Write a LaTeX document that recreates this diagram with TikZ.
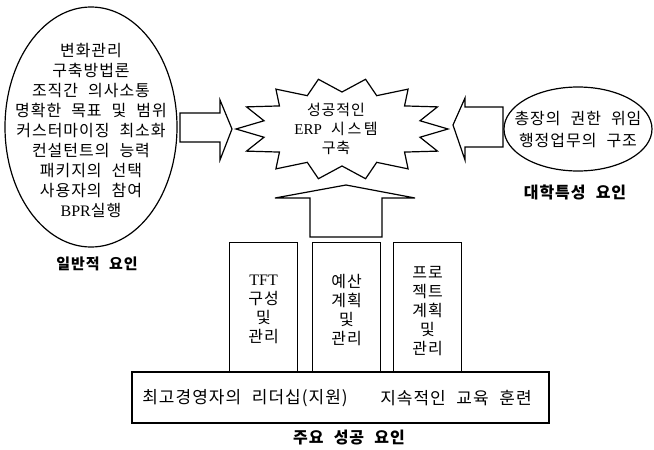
\documentclass[tikz,border=0pt]{standalone}
\usepackage{fontspec}
\setmainfont{Noto Sans CJK KR}
\newfontfamily\kr[WordSpace=2.2,LetterSpace=6]{Noto Sans CJK KR}
\newfontfamily\latf{Liberation Serif}
\newcommand\lt[1]{{\latf #1}}
\tikzset{
  kt/.style={font=\kr\fontsize{16}{20}\selectfont, align=center, inner sep=0pt},
  lab/.style={font=\kr\bfseries\fontsize{16}{18}\selectfont, inner sep=0pt},
  ln/.style={line width=1.2pt, line join=miter},
  colbox/.style={ln, draw, minimum width=68pt, minimum height=130pt, anchor=north west, inner sep=0pt}
}
\begin{document}
\begin{tikzpicture}[x=1pt,y=-1pt]
\useasboundingbox (0,0) rectangle (654,450);
% left ellipse
\draw[ln] (91,127) ellipse [x radius=86, y radius=120];
\node[kt] (gen) at (91,130) {변화관리\\구축방법론\\조직간 의사소통\\명확한 목표 및 범위\\커스터마이징 최소화\\컨설턴트의 능력\\패키지의 선택\\사용자의 참여\\\lt{BPR}실행};
\node[lab, font=\kr\bfseries\fontsize{15}{18}\selectfont] (genlab) at (97,264) {일반적 요인};
% left arrow
\draw[ln] (180,113) -- (220,113) -- (220,100) -- (232,129) -- (220,160) -- (220,142) -- (180,142) -- cycle;
% starburst
\draw[ln] plot[samples at={0,...,27}, variable=\i]
  ({342+ifthenelse(mod(\i,2)==0,106,80)*cos(\i*360/28)},
   {129+ifthenelse(mod(\i,2)==0,51,37)*sin(\i*360/28)}) -- cycle;
\node[kt, font=\kr\fontsize{15}{19}\selectfont] (erp) at (336,129) {성공적인\\\lt{ERP} 시{\,}스{\,}템\\구축};
% right arrow
\draw[ln] (503,107) -- (465,107) -- (465,98) -- (453,125) -- (465,160) -- (465,147) -- (503,147) -- cycle;
% right ellipse
\draw[ln] (578,129) ellipse [x radius=74, y radius=42];
\node[kt, font=\kr\fontsize{16}{22}\selectfont] (univ) at (578,129) {총장의 권한 위임\\행정업무의 구조};
\node[lab] (univlab) at (575,192) {대학특성 요인};
% up arrow
\draw[ln] (310,237) -- (310,198) -- (275,198) -- (346,185) -- (415,198) -- (382,198) -- (382,237) -- cycle;
% columns
\node[colbox] (c1) at (229,242) {};
\node[colbox] (c2) at (312,242) {};
\node[colbox] (c3) at (393,242) {};
\node[kt, font=\kr\fontsize{16}{19}\selectfont] (t1) at ([yshift=-2]c1.center) {\lt{TFT}\\구성\\및\\관리};
\node[kt, font=\kr\fontsize{16}{19}\selectfont] (t2) at ([yshift=-2]c2.center) {예산\\계획\\및\\관리};
\node[kt, font=\kr\fontsize{16}{19}\selectfont] (t3) at ([yshift=-3]c3.center) {프로\\젝트\\계획\\및\\관리};
% base
\draw[ln] (132,372) rectangle (549,423);
\node[kt, font=\kr\fontsize{17}{20}\selectfont] (lead) at (245,398) {최고경영자의 리더십(지원)};
\node[kt, font=\kr\fontsize{17}{20}\selectfont] (edu) at (456,398) {지속적인 교육 훈련};
\node[lab] (mainlab) at (349,438) {주요 성공 요인};
\end{tikzpicture}
\end{document}
